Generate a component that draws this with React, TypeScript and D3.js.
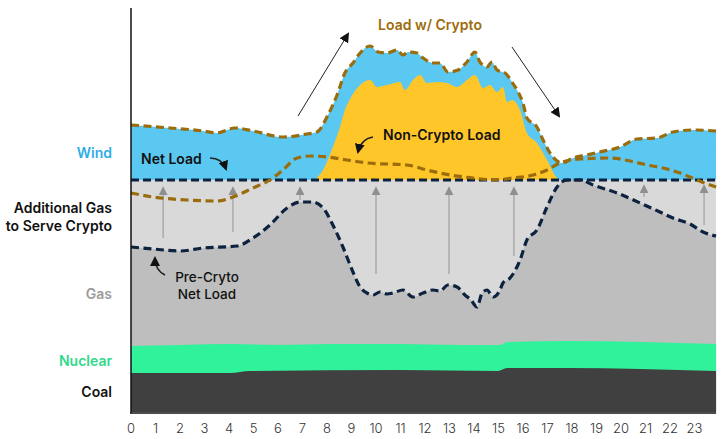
import React, { useEffect, useRef } from 'react';
import * as d3 from 'd3';

// ==== data (hours of day, load in arbitrary GW-like units)

const hourTicks = d3.range(0, 24);
const capLevel = 58; // non-gas supply line

const loadHours = [0, 1.59, 2.94, 3.51, 4.24, 4.98, 6.2, 7.18, 7.59, 8.04, 8.41, 8.73, 9.06, 9.35, 9.76, 10.08, 10.45, 10.86, 11.1, 11.31, 11.67, 11.92, 12.33, 12.61, 12.94, 13.35, 13.71, 14.04, 14.24, 14.53, 14.73, 14.94, 15.27, 15.55, 15.8, 16.0, 16.16, 16.57, 16.82, 17.22, 17.59, 18.04, 18.61, 19.14, 19.96, 20.65, 21.47, 22.12, 22.94, 23.88];
const loadWithCrypto = [71.75, 71, 70.25, 69.75, 71, 70.25, 68.75, 69.5, 70, 74.25, 79.25, 84.75, 87.25, 89.75, 91.5, 90, 89.75, 90.5, 89.25, 90, 89.75, 88.5, 87.25, 87.25, 85, 85.5, 87.5, 90, 87.5, 86.25, 87.5, 85.5, 84.75, 82.5, 80, 77.25, 73.5, 71.25, 68, 63.75, 62.25, 63.5, 64.25, 65, 66.25, 68.25, 68.5, 70, 70.5, 70.25];

const cryptoHours = [7.47, 7.84, 8.24, 8.53, 8.73, 8.94, 9.35, 9.76, 10.04, 10.45, 10.98, 11.18, 11.51, 11.8, 12.08, 12.49, 12.9, 13.31, 13.71, 14.04, 14.37, 14.65, 14.94, 15.18, 15.35, 15.55, 15.88, 16.16, 16.57, 16.98, 17.39, 17.51];
const cryptoTop = [58, 60.5, 66.25, 71.25, 75.5, 78.25, 81.75, 83, 81.25, 81.75, 82.5, 80.5, 83, 84.25, 82.25, 82.5, 82.25, 81.25, 83, 84.25, 81, 81.75, 80, 81.25, 77.5, 78, 75.5, 69.75, 67.25, 63, 58.5, 58];

const netHours = [0, 0.9, 2.29, 3.51, 4.16, 4.98, 5.67, 6.2, 6.78, 7.31, 8.0, 8.82, 9.67, 11.27, 12.08, 13.02, 13.96, 14.78, 15.59, 16.41, 16.98, 17.51, 18.33, 19.55, 20.37, 21.06, 21.71, 22.41, 23.1, 23.88];
const netLoad = [54.75, 53.75, 53, 52.75, 53.75, 56, 58, 60.5, 63.5, 64, 63.75, 63, 62.25, 61.75, 60.5, 59.25, 58.5, 58, 58.5, 59.25, 60.5, 62.25, 63.25, 63.5, 62.75, 61.75, 61, 59.75, 58, 56.25];

const preHours = [0, 0.9, 2.0, 2.94, 4.33, 4.98, 5.67, 6.37, 6.9, 7.39, 7.84, 8.24, 8.65, 9.06, 9.35, 9.63, 9.88, 10.16, 10.45, 10.69, 11.1, 11.51, 11.92, 12.33, 12.61, 12.94, 13.31, 13.63, 13.88, 14.12, 14.33, 14.53, 14.78, 15.06, 15.18, 15.47, 15.88, 16.16, 16.57, 16.98, 17.39, 17.8, 18.33, 18.86, 19.84, 20.78, 21.59, 22.12, 22.82, 23.35, 23.88];
const preCryptoNet = [41.25, 40.75, 40.25, 41, 41.5, 43.5, 46.75, 51, 52.5, 52.5, 51, 46.75, 41.25, 35, 31.25, 29.75, 29.25, 30, 29.5, 29.75, 30.5, 28.75, 29.75, 30.5, 30.25, 31.75, 31.25, 29.25, 28, 26.25, 29.75, 30.5, 28.75, 30.5, 32.25, 33.5, 38, 43, 45.5, 51.25, 56.25, 58, 58, 56.75, 54.75, 52.25, 50, 48.5, 47, 45, 44];

const nuclearHours = [0, 2.0, 4.04, 6.08, 8.12, 10.98, 13.43, 15.06, 15.35, 17.8, 20.78, 23.88];
const nuclearTop = [16.5, 16.75, 17, 16.75, 17, 17, 16.75, 16.75, 17.5, 17.75, 17.5, 17];

const coalHours = [0, 4.04, 4.86, 10.98, 14.98, 15.35, 17.8, 20.78, 23.88];
const coalTop = [9.75, 9.75, 10.25, 10.5, 10.25, 11, 11, 10.75, 10.25];

const boostHours = [1.31, 4.16, 6.9, 10, 12.98, 15.63, 20.94, 23.39];
const boostFrom = [43.5, 45, 53, 34.5, 34.5, 39, 53.75, 46.75];
const boostTo = [56, 56, 56, 56, 56, 56, 56.5, 56.5];

const sideLabels = [
    { lines: ['Wind'], value: 64.75, color: '#2eaee6' },
    { lines: ['Additional Gas', 'to Serve Crypto'], value: 48.75, color: '#111' },
    { lines: ['Gas'], value: 29.5, color: '#9b9b9b' },
    { lines: ['Nuclear'], value: 12.75, color: '#2fd98b' },
    { lines: ['Coal'], value: 5, color: '#111' }
];

// ====

const FONT = "Inter, 'DejaVu Sans', sans-serif";

function zip(hs: number[], vs: number[]) {
    return hs.map((h, i) => [h, vs[i]] as [number, number]);
}

export default function App() {
    const node = useRef<SVGSVGElement | null>(null);

    useEffect(() => {
        const svg = d3.select(node.current);
        svg.selectAll('*').remove();

        const x = d3.scaleLinear().domain([0, 24]).range([131, 719]);
        const y = d3.scaleLinear().domain([0, 101]).range([412, 8]);
        const xEnd = loadHours[loadHours.length - 1];

        const defs = svg.append('defs');
        const marker = (id: string, color: string, size: number) => {
            defs.append('marker')
                .attr('id', id)
                .attr('viewBox', '0 0 10 10')
                .attr('refX', 8)
                .attr('refY', 5)
                .attr('markerUnits', 'userSpaceOnUse')
                .attr('markerWidth', size)
                .attr('markerHeight', size)
                .attr('orient', 'auto')
                .append('path')
                .attr('d', 'M0,0 L10,5 L0,10 z')
                .attr('fill', color);
        };
        marker('headBlack', '#111', 10);
        marker('headGray', '#8f8f8f', 9);

        const area = (lo: (d: [number, number]) => number, curve = d3.curveMonotoneX) =>
            d3.area<[number, number]>()
                .x((d) => x(d[0]))
                .y0(lo)
                .y1((d) => y(d[1]))
                .curve(curve);
        const line = d3.line<[number, number]>()
            .x((d) => x(d[0]))
            .y((d) => y(d[1]))
            .curve(d3.curveMonotoneX);

        // additional gas backdrop
        svg.append('path')
            .datum(zip([0, xEnd], [capLevel, capLevel]))
            .attr('d', area(() => y(0), d3.curveLinear))
            .attr('fill', '#d9d9d9');

        // wind
        svg.append('path')
            .datum(zip(loadHours, loadWithCrypto))
            .attr('d', area(() => y(capLevel)))
            .attr('fill', '#5bc8f2');

        // crypto load
        svg.append('path')
            .datum(zip(cryptoHours, cryptoTop))
            .attr('d', area(() => y(capLevel)))
            .attr('fill', '#ffc629');

        // gas, nuclear, coal
        svg.append('path')
            .datum(zip(preHours, preCryptoNet))
            .attr('d', area(() => y(0)))
            .attr('fill', '#bdbebd');
        svg.append('path')
            .datum(zip(nuclearHours, nuclearTop))
            .attr('d', area(() => y(0)))
            .attr('fill', '#30f29b');
        svg.append('path')
            .datum(zip(coalHours, coalTop))
            .attr('d', area(() => y(0)))
            .attr('fill', '#404040');

        // gray boost arrows
        boostHours.forEach((h, i) => {
            svg.append('line')
                .attr('x1', x(h)).attr('x2', x(h))
                .attr('y1', y(boostFrom[i])).attr('y2', y(boostTo[i]))
                .attr('stroke', '#a3a3a3')
                .attr('stroke-width', 1.3)
                .attr('marker-end', 'url(#headGray)');
        });

        // cap line
        svg.append('path')
            .datum(zip([0, xEnd], [capLevel, capLevel]))
            .attr('d', line)
            .attr('fill', 'none')
            .attr('stroke', '#0d223f')
            .attr('stroke-width', 3.2)
            .attr('stroke-dasharray', '8,4');

        const dashed = (data: [number, number][], color: string) =>
            svg.append('path')
                .datum(data)
                .attr('d', line)
                .attr('fill', 'none')
                .attr('stroke', color)
                .attr('stroke-width', 3.2)
                .attr('stroke-dasharray', '8,4.5');

        dashed(zip(preHours, preCryptoNet), '#0d223f');
        dashed(zip(netHours, netLoad), '#9b6c0c');
        dashed(zip(loadHours, loadWithCrypto), '#9b6c0c');

        // axes
        svg.append('line')
            .attr('x1', 131).attr('x2', 131).attr('y1', 8).attr('y2', 413)
            .attr('stroke', '#111').attr('stroke-width', 1.5);
        svg.append('line')
            .attr('x1', 130).attr('x2', x(xEnd)).attr('y1', 413).attr('y2', 413)
            .attr('stroke', '#111').attr('stroke-width', 1.5);

        svg.append('g')
            .selectAll('text')
            .data(hourTicks)
            .enter()
            .append('text')
            .attr('x', (d) => x(d))
            .attr('y', 433)
            .attr('text-anchor', 'middle')
            .attr('font-family', FONT)
            .attr('font-size', 13)
            .attr('font-weight', 300)
            .attr('fill', '#333')
            .text((d) => d);

        // side labels
        sideLabels.forEach((s) => {
            const t = svg.append('text')
                .attr('text-anchor', 'end')
                .attr('font-family', FONT)
                .attr('font-size', 14)
                .attr('font-weight', 600)
                .attr('fill', s.color);
            const top = y(s.value) - (s.lines.length - 1) * 9;
            s.lines.forEach((l, i) => {
                t.append('tspan')
                    .attr('x', 112)
                    .attr('y', top + i * 18 + 5)
                    .text(l);
            });
        });

        const label = (txt: string, tx: number, ty: number, color: string, weight = 600, size = 14, anchor = 'start') =>
            svg.append('text')
                .attr('x', tx).attr('y', ty)
                .attr('text-anchor', anchor)
                .attr('font-family', FONT)
                .attr('font-size', size)
                .attr('font-weight', weight)
                .attr('fill', color)
                .text(txt);

        label('Load w/ Crypto', 430, 30, '#9b6c0c', 600, 14, 'middle');
        label('Non-Crypto Load', 383, 140, '#111');
        label('Net Load', 141, 164, '#111');
        label('Pre-Cryto', 207, 282, '#111', 500, 13.5, 'middle');
        label('Net Load', 207, 299, '#111', 500, 13.5, 'middle');

        // annotation arrows
        const arrow = (d: string, w: number) =>
            svg.append('path')
                .attr('d', d)
                .attr('fill', 'none')
                .attr('stroke', '#222')
                .attr('stroke-width', w)
                .attr('marker-end', 'url(#headBlack)');

        arrow('M298,116 L348,34', 1);
        arrow('M512,47 L559,116', 1);
        arrow('M210,158 Q222,158 226,169', 1.5);
        arrow('M373,137 Q361,139 358,152', 1.5);
        arrow('M165,275 Q155,270 155,258', 1.5);
    }, []);

    return (
        <svg
            ref={node}
            width={723}
            height={439}
            style={{ position: 'absolute', left: 0, top: 0, background: '#fff' }}>
        </svg>
    );
}
